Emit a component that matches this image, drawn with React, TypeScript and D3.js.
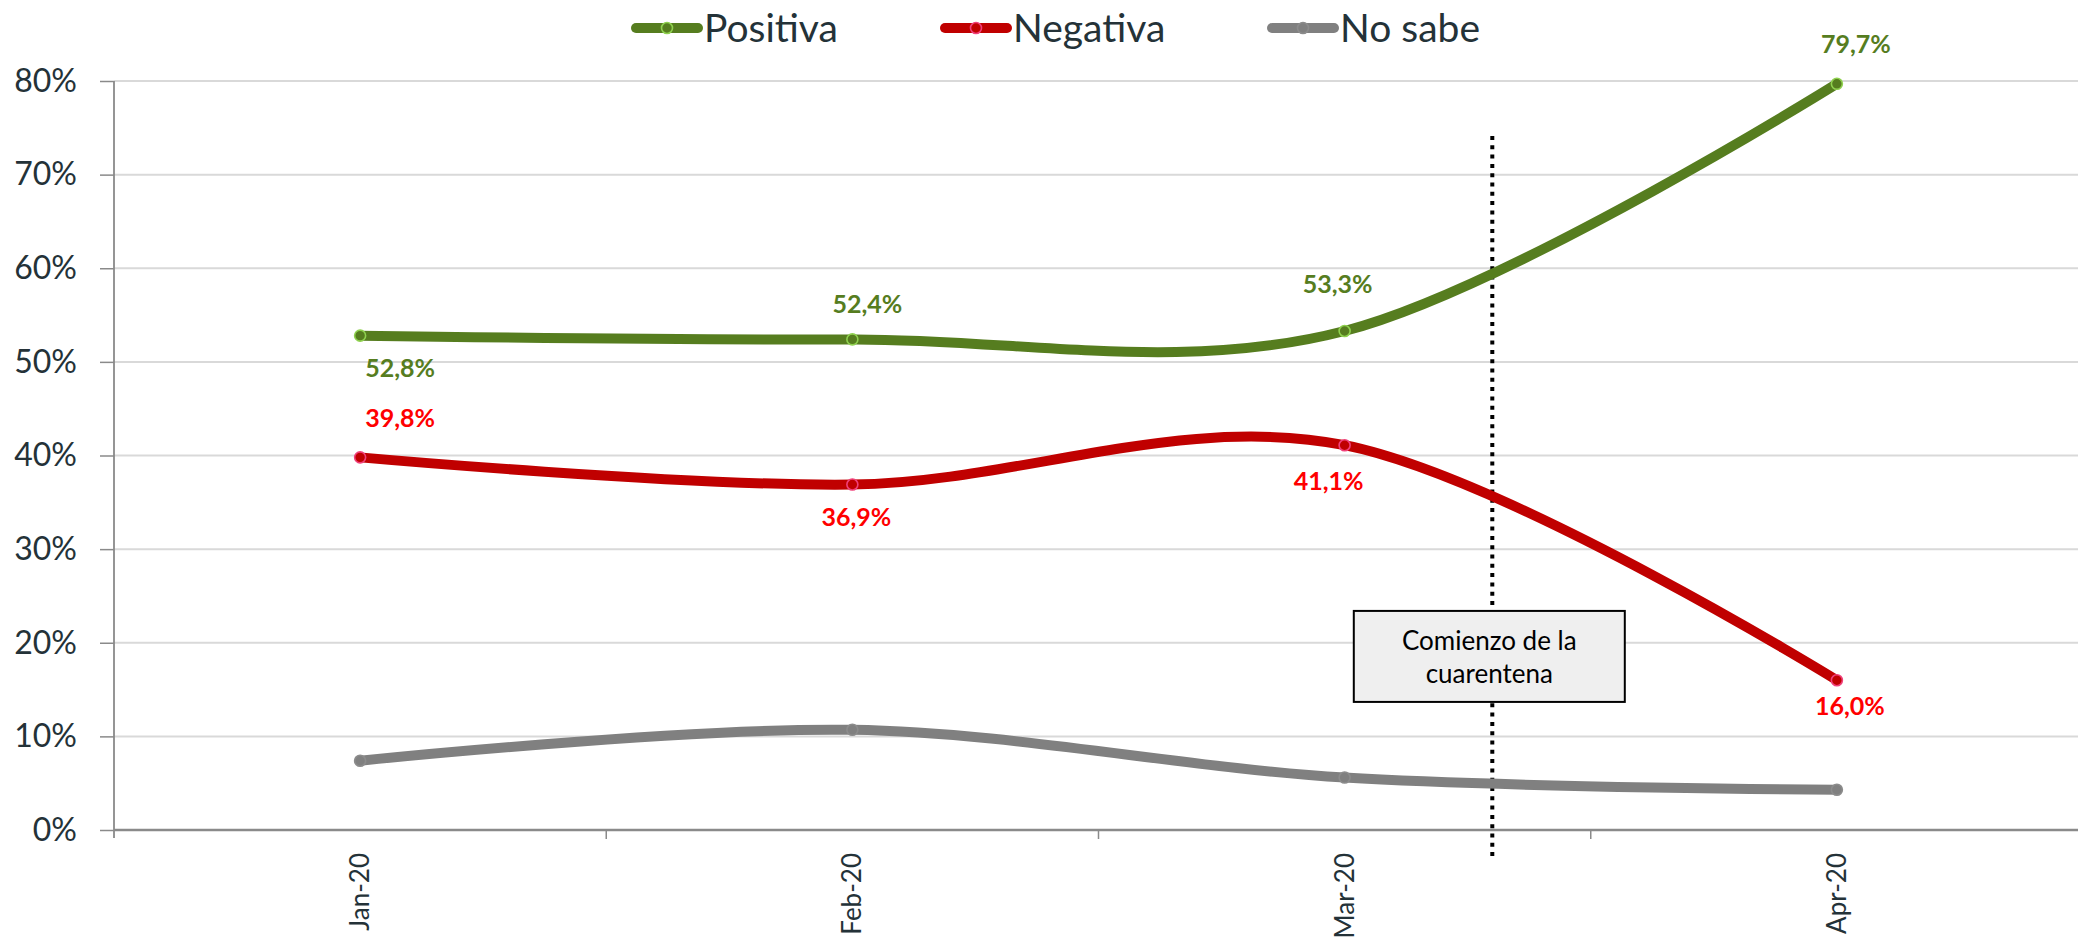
import React, { useEffect, useRef } from 'react';
import * as d3 from 'd3';

// Data
const months = ['Jan-20', 'Feb-20', 'Mar-20', 'Apr-20'];
const positiva = [52.8, 52.4, 53.3, 79.7];
const negativa = [39.8, 36.9, 41.1, 16.0];
const noSabe = [7.4, 10.7, 5.6, 4.3];
const yTicks = [0, 10, 20, 30, 40, 50, 60, 70, 80];
const annotationLines = ['Comienzo de la', 'cuarentena'];
const quarantineAt = 2.3; // position in month steps (between Mar and Apr)

// Label placement (layout only)
const labelOffsets: Record<string, { dx: number; dy: number }[]> = {
  Positiva: [{ dx: 40, dy: 32 }, { dx: 15, dy: -35 }, { dx: -7, dy: -47 }, { dx: 19, dy: -40 }],
  Negativa: [{ dx: 40, dy: -39 }, { dx: 4, dy: 32 }, { dx: -16, dy: 36 }, { dx: 13, dy: 26 }],
};
const legendX = [0, 309, 636];

const series = [
  { name: 'Positiva', values: positiva, color: '#567d1f', marker: '#8fd14f', label: '#567d1f', labels: true },
  { name: 'Negativa', values: negativa, color: '#c00000', marker: '#f0407a', label: '#ff0000', labels: true },
  { name: 'No sabe', values: noSabe, color: '#808080', marker: '#8c8c8c', label: '#808080', labels: false },
];

const fmt = (v: number) => v.toFixed(1).replace('.', ',') + '%';

const App = () => {
  const svgRef = useRef<SVGSVGElement | null>(null);

  useEffect(() => {
    const width = 2078;
    const height = 939;
    const marginLeft = 114;
    const font = 'Lato, "Open Sans", sans-serif';
    const textColor = '#243238';

    const svg = d3.select(svgRef.current)
      .attr('width', width)
      .attr('height', height)
      .attr('viewBox', `0 0 ${width} ${height}`);
    svg.selectAll('*').remove();

    const x = d3.scaleBand<string>()
      .domain(months)
      .range([marginLeft, marginLeft + 4 * 492.25])
      .paddingInner(0)
      .paddingOuter(0);
    const cx = (m: string) => (x(m) as number) + x.bandwidth() / 2;

    const y = d3.scaleLinear().domain([0, 80]).range([830, 81]);

    // Gridlines
    svg.append('g')
      .selectAll('line')
      .data(yTicks.filter(t => t > 0))
      .join('line')
      .attr('x1', marginLeft)
      .attr('x2', width)
      .attr('y1', d => y(d))
      .attr('y2', d => y(d))
      .attr('stroke', '#d9d9d9')
      .attr('stroke-width', 2);

    // Y axis
    const yAxis = svg.append('g')
      .attr('transform', `translate(${marginLeft},0)`)
      .call(d3.axisLeft(y).tickValues(yTicks).tickSize(14).tickPadding(23).tickFormat(d => `${d}%`))
      .call(g => g.select('.domain').attr('stroke', '#8a8a8a').attr('stroke-width', 1.8)
        .attr('d', `M0,${y(80)}V${y(0) + 8}`));
    yAxis.selectAll('.tick line').attr('stroke', '#8a8a8a').attr('stroke-width', 1.5);
    yAxis.selectAll('.tick text')
      .attr('font-family', font)
      .attr('font-size', 32)
      .attr('fill', textColor);

    // X axis
    const xAxis = svg.append('g').attr('transform', `translate(0,${y(0)})`);
    xAxis.append('line')
      .attr('x1', marginLeft).attr('x2', width)
      .attr('stroke', '#8a8a8a').attr('stroke-width', 2.5);
    xAxis.selectAll('line.tk')
      .data(months.slice(1))
      .join('line')
      .attr('class', 'tk')
      .attr('x1', d => x(d) as number).attr('x2', d => x(d) as number)
      .attr('y1', 0).attr('y2', 9)
      .attr('stroke', '#8a8a8a').attr('stroke-width', 1.5);
    xAxis.selectAll('text')
      .data(months)
      .join('text')
      .attr('transform', d => `translate(${cx(d)},23) rotate(-90)`)
      .attr('text-anchor', 'end')
      .attr('dy', '0.35em')
      .attr('font-family', font)
      .attr('font-size', 26)
      .attr('fill', textColor)
      .text(d => d);

    // Quarantine line
    const qx = cx(months[0]) + quarantineAt * x.step();
    svg.append('line')
      .attr('x1', qx).attr('x2', qx)
      .attr('y1', 136).attr('y2', y(0) + 26)
      .attr('stroke', '#000')
      .attr('stroke-width', 4)
      .attr('stroke-dasharray', '4 5.3');

    // Annotation box
    const boxW = 271;
    const boxH = 91;
    const boxY = y(23.4);
    const ann = svg.append('g').attr('transform', `translate(${qx - boxW / 2 - 3},${boxY})`);
    ann.append('rect')
      .attr('width', boxW).attr('height', boxH)
      .attr('fill', '#efefef')
      .attr('stroke', '#000')
      .attr('stroke-width', 2);
    ann.selectAll('text')
      .data(annotationLines)
      .join('text')
      .attr('x', boxW / 2)
      .attr('y', (d, i) => 30 + i * 33)
      .attr('dy', '0.35em')
      .attr('text-anchor', 'middle')
      .attr('font-family', font)
      .attr('font-size', 26)
      .attr('fill', '#000')
      .text(d => d);

    // Lines
    const line = d3.line<number>()
      .x((d, i) => cx(months[i]))
      .y(d => y(d))
      .curve(d3.curveCatmullRom.alpha(0));

    series.forEach(s => {
      const g = svg.append('g');
      g.append('path')
        .datum(s.values)
        .attr('fill', 'none')
        .attr('stroke', s.color)
        .attr('stroke-width', 10)
        .attr('stroke-linecap', 'round')
        .attr('d', line);
      g.selectAll('circle')
        .data(s.values)
        .join('circle')
        .attr('cx', (d, i) => cx(months[i]))
        .attr('cy', d => y(d))
        .attr('r', 5.5)
        .attr('fill', s.color)
        .attr('stroke', s.marker)
        .attr('stroke-width', 1.6);
      if (s.labels) {
        g.selectAll('text')
          .data(s.values)
          .join('text')
          .attr('x', (d, i) => cx(months[i]) + labelOffsets[s.name][i].dx)
          .attr('y', (d, i) => y(d) + labelOffsets[s.name][i].dy)
          .attr('dy', '0.36em')
          .attr('text-anchor', 'middle')
          .attr('font-family', font)
          .attr('font-weight', 700)
          .attr('font-size', 25)
          .attr('fill', s.label)
          .text(d => fmt(d));
      }
    });

    // Legend
    const legend = svg.append('g').attr('transform', 'translate(631,28)');
    series.forEach((s, i) => {
      const item = legend.append('g').attr('transform', `translate(${legendX[i]},0)`);
      item.append('line')
        .attr('x1', 5).attr('x2', 67)
        .attr('stroke', s.color)
        .attr('stroke-width', 10)
        .attr('stroke-linecap', 'round');
      item.append('circle')
        .attr('cx', 36).attr('r', 5.5)
        .attr('fill', s.color)
        .attr('stroke', s.marker)
        .attr('stroke-width', 1.6);
      item.append('text')
        .attr('x', 73)
        .attr('y', 14)
        .attr('font-family', font)
        .attr('font-size', 39)
        .attr('fill', textColor)
        .text(s.name);
    });
  }, []);

  return (
    <svg ref={svgRef} style={{ position: 'absolute', left: 0, top: 0, background: '#fff' }}></svg>
  );
};

export default App;
